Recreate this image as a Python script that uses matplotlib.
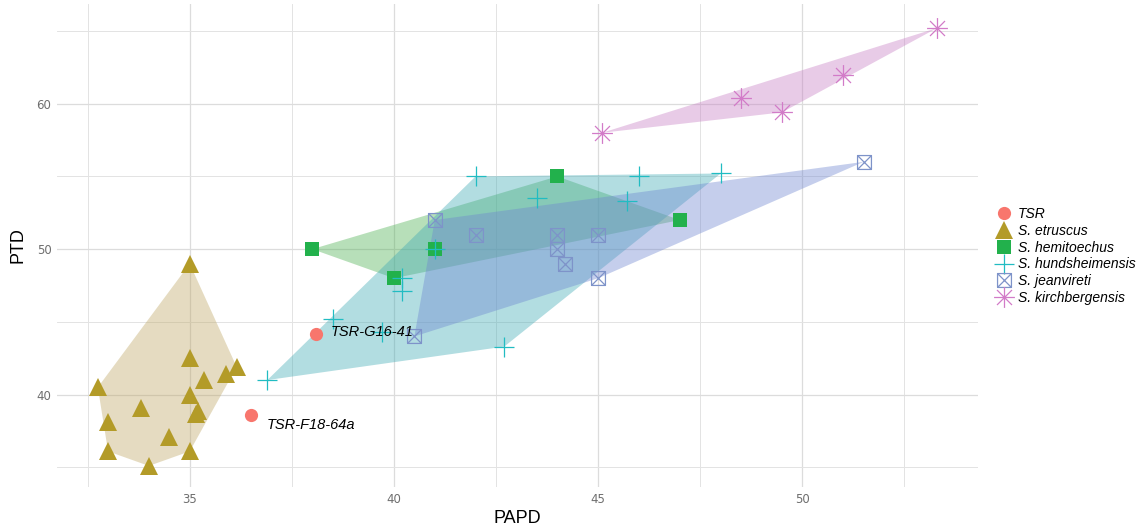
import numpy as np
import matplotlib
matplotlib.use("Agg")
import matplotlib.pyplot as plt
from matplotlib.path import Path
from matplotlib.lines import Line2D

## data
tsr_x = [36.5, 38.1]
tsr_y = [38.6, 44.15]
tsr_lab = ["TSR-F18-64a", "TSR-G16-41"]

etr_x = [35.0, 35.0, 36.15, 35.9, 35.35, 32.75, 35.0, 33.8, 35.2, 35.15, 33.0, 34.5, 33.0, 35.0, 34.0]
etr_y = [49.0, 42.5, 41.9, 41.4, 41.0, 40.5, 40.0, 39.05, 38.9, 38.7, 38.1, 37.1, 36.1, 36.1, 35.1]

hem_x = [38.0, 40.0, 41.0, 44.0, 47.0]
hem_y = [50.0, 48.0, 50.0, 55.0, 52.0]

hun_x = [36.9, 38.5, 39.7, 40.2, 40.2, 41.0, 42.0, 43.5, 42.7, 46.0, 45.7, 48.0]
hun_y = [41.0, 45.2, 44.3, 48.0, 47.1, 50.0, 55.0, 53.5, 43.3, 55.0, 53.3, 55.2]

jea_x = [41.0, 42.0, 40.5, 44.0, 44.0, 44.2, 45.0, 45.0, 51.5]
jea_y = [52.0, 51.0, 44.0, 51.0, 50.0, 49.0, 51.0, 48.0, 56.0]

kir_x = [45.1, 48.5, 49.5, 51.0, 53.3]
kir_y = [58.0, 60.4, 59.4, 62.0, 65.2]

## markers like ggplot shapes 7 and 8
box_x = Path([(-1, -1), (1, -1), (1, 1), (-1, 1), (-1, -1), (-1, -1), (1, 1), (-1, 1), (1, -1)],
             [1, 2, 2, 2, 2, 1, 2, 1, 2])
d = 0.72
star = Path([(-1, 0), (1, 0), (0, -1), (0, 1), (-d, -d), (d, d), (-d, d), (d, -d)],
            [1, 2, 1, 2, 1, 2, 1, 2])


def hull(xs, ys):
    pts = sorted(set(zip(xs, ys)))
    def cross(o, a, b):
        return (a[0]-o[0])*(b[1]-o[1]) - (a[1]-o[1])*(b[0]-o[0])
    lo, up = [], []
    for p in pts:
        while len(lo) >= 2 and cross(lo[-2], lo[-1], p) <= 0:
            lo.pop()
        lo.append(p)
    for p in reversed(pts):
        while len(up) >= 2 and cross(up[-2], up[-1], p) <= 0:
            up.pop()
        up.append(p)
    return np.array(lo[:-1] + up[:-1])


# name, x, y, point colour, fill colour, marker style
groups = [
    ("S. etruscus", etr_x, etr_y, "#B39B28", "#BFA764", dict(marker="^", ms=13, mew=0)),
    ("S. hemitoechus", hem_x, hem_y, "#22B14C", "#4CB050", dict(marker="s", ms=10, mew=0)),
    ("S. hundsheimensis", hun_x, hun_y, "#21BCC2", "#40AAB5", dict(marker="+", ms=15, mew=0.9)),
    ("S. jeanvireti", jea_x, jea_y, "#7E93C9", "#6E86D0", dict(marker=box_x, ms=10, mew=0.9, mfc="none")),
    ("S. kirchbergensis", kir_x, kir_y, "#D27BC8", "#C77DC3", dict(marker=star, ms=15, mew=0.9)),
]

fig = plt.figure(figsize=(11.48, 5.31), dpi=100)
ax = fig.add_axes([57/1148, 1-487/531, (978-57)/1148, (487-4)/531])

for name, xs, ys, col, fcol, mk in groups:
    h = hull(xs, ys)
    ax.fill(h[:, 0], h[:, 1], color=fcol, alpha=0.4, lw=0, zorder=1)
for name, xs, ys, col, fcol, mk in groups:
    ax.plot(xs, ys, ls="none", color=col, zorder=3, **mk)

ax.plot(tsr_x, tsr_y, ls="none", marker="o", ms=9.5, mew=0, color="#F8766D", zorder=4)
ax.annotate(tsr_lab[0], (tsr_x[0], tsr_y[0]), xytext=(11, -7), textcoords="offset points",
            fontsize=10.5, style="italic", family="Liberation Sans", va="center", zorder=5)
ax.annotate(tsr_lab[1], (tsr_x[1], tsr_y[1]), xytext=(10, 1.5), textcoords="offset points",
            fontsize=10.5, style="italic", family="Liberation Sans", va="center", zorder=5)

ax.set_xlim(31.75, 54.3)
ax.set_ylim(33.65, 66.85)
ax.set_xticks([35, 40, 45, 50])
ax.set_xticks([32.5, 37.5, 42.5, 47.5, 52.5], minor=True)
ax.set_yticks([40, 50, 60])
ax.set_yticks([35, 45, 55, 65], minor=True)
ax.grid(True, which="major", color="#DCDCDC", lw=0.9, zorder=0)
ax.grid(True, which="minor", color="#E3E3E3", lw=0.7, zorder=0)
ax.set_axisbelow(True)
for s in ax.spines.values():
    s.set_visible(False)
ax.tick_params(which="both", length=0, labelsize=8.5, labelcolor="#6E6E6E", pad=4)
ax.set_xlabel("PAPD", fontsize=13, family="Liberation Sans", labelpad=3)
ax.set_ylabel("PTD", fontsize=13, family="Liberation Sans", labelpad=7)

handles = [Line2D([], [], ls="none", marker="o", ms=9.5, mew=0, color="#F8766D")]
for name, xs, ys, col, fcol, mk in groups:
    handles.append(Line2D([], [], ls="none", color=col, **mk))
labels = ["TSR"] + [g[0] for g in groups]
fig.legend(handles, labels, loc="center left", bbox_to_anchor=(980/1148, 1-256/531),
           frameon=False, handletextpad=0.2, labelspacing=0.2, handlelength=1.6,
           prop=dict(family="Liberation Sans", style="italic", size=10))

fig.savefig("out.png", dpi=100)
